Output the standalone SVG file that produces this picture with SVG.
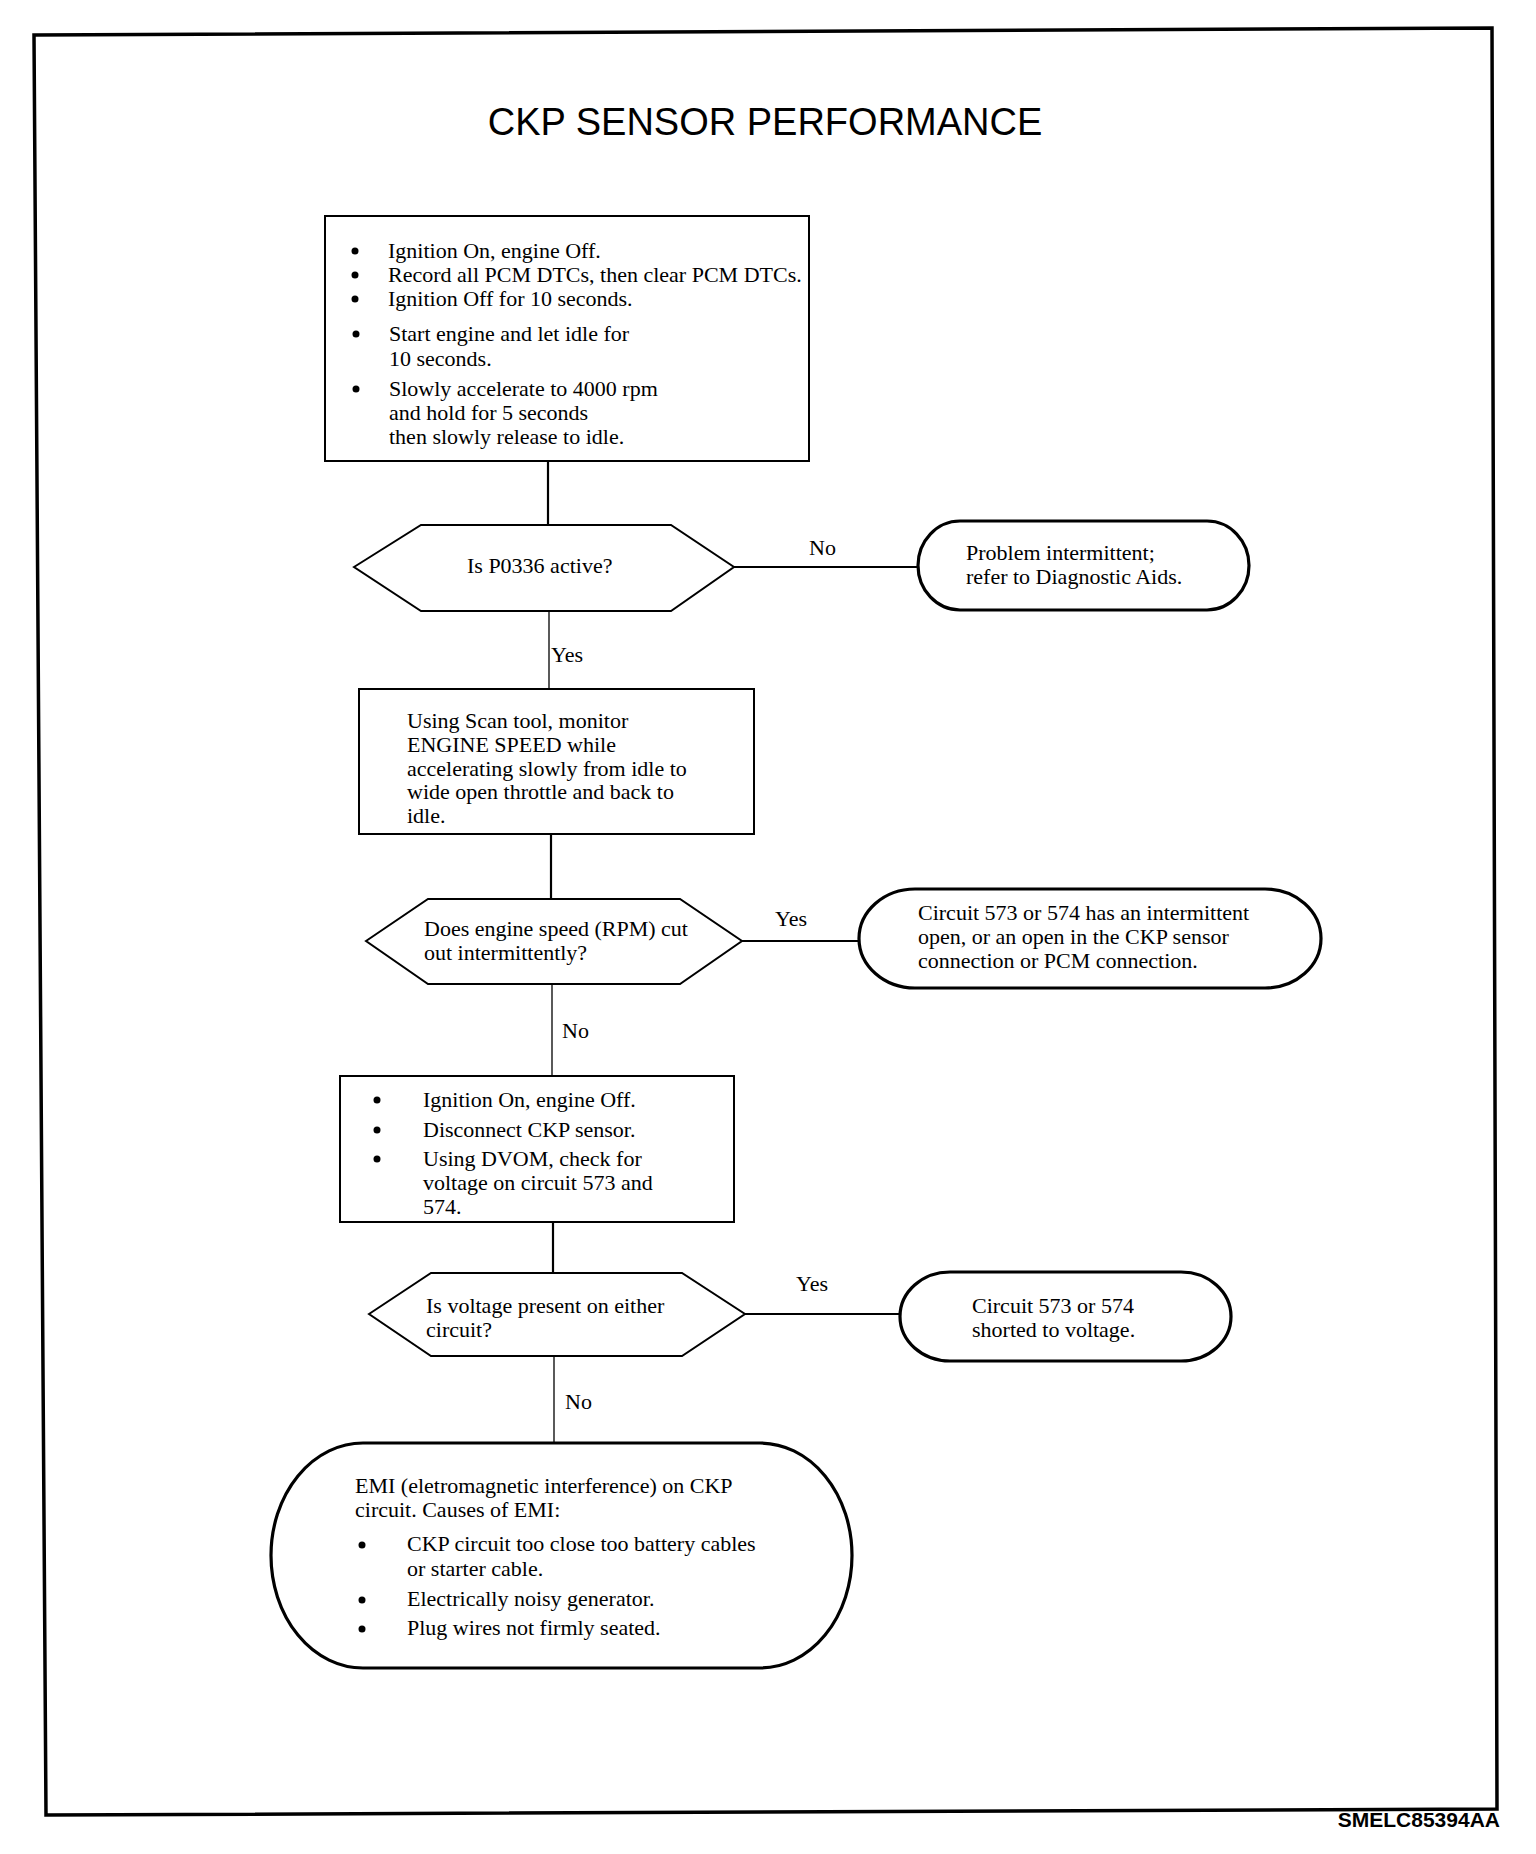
<svg xmlns="http://www.w3.org/2000/svg" width="1536" height="1854" viewBox="0 0 1536 1854">
<style>
.t{font-family:"Liberation Serif","Times New Roman",serif;font-size:22px;fill:#000}
.lbl{font-family:"Liberation Serif","Times New Roman",serif;font-size:22px;fill:#000}
.box{fill:#fff;stroke:#000;stroke-width:2}
.hex{fill:#fff;stroke:#000;stroke-width:2}
.oval{fill:#fff;stroke:#000;stroke-width:3.2}
.c{stroke:#000;stroke-width:2.2;fill:none}
.ct{stroke:#000;stroke-width:1.3;fill:none}
.b{fill:#000}
</style>
<rect x="0" y="0" width="1536" height="1854" fill="#fff"/>
<polygon points="34,35 1492,28 1497,1809 46,1815" fill="none" stroke="#000" stroke-width="3.5"/>
<text x="765" y="135" text-anchor="middle" font-family="'Liberation Sans',Arial,sans-serif" font-size="38" fill="#000">CKP SENSOR PERFORMANCE</text>

<g id="connectors">
<line class="c" x1="548" y1="461" x2="548" y2="525"/>
<line class="c" x1="734" y1="567" x2="918" y2="567"/>
<line class="ct" x1="549" y1="611" x2="549" y2="689"/>
<line class="c" x1="551" y1="834" x2="551" y2="899"/>
<line class="c" x1="742" y1="941" x2="859" y2="941"/>
<line class="ct" x1="552" y1="984" x2="552" y2="1076"/>
<line class="c" x1="553" y1="1222" x2="553" y2="1273"/>
<line class="c" x1="745" y1="1314" x2="900" y2="1314"/>
<line class="ct" x1="554" y1="1356" x2="554" y2="1444"/>
<text class="lbl" x="809" y="555">No</text>
<text class="lbl" x="551" y="662">Yes</text>
<text class="lbl" x="775" y="926">Yes</text>
<text class="lbl" x="562" y="1038">No</text>
<text class="lbl" x="796" y="1291">Yes</text>
<text class="lbl" x="565" y="1409">No</text>
</g>

<g id="box1">
<rect class="box" x="325" y="216" width="484" height="245"/>
<circle class="b" cx="355" cy="251" r="3.5"/>
<text class="t" x="388" y="258">Ignition On, engine Off.</text>
<circle class="b" cx="355" cy="275" r="3.5"/>
<text class="t" x="388" y="282">Record all PCM DTCs, then clear PCM DTCs.</text>
<circle class="b" cx="355" cy="299" r="3.5"/>
<text class="t" x="388" y="306">Ignition Off for 10 seconds.</text>
<circle class="b" cx="356" cy="334" r="3.5"/>
<text class="t" x="389" y="341">Start engine and let idle for</text>
<text class="t" x="389" y="366">10 seconds.</text>
<circle class="b" cx="356" cy="389" r="3.5"/>
<text class="t" x="389" y="396">Slowly accelerate to 4000 rpm</text>
<text class="t" x="389" y="420">and hold for 5 seconds</text>
<text class="t" x="389" y="444">then slowly release to idle.</text>
</g>

<g id="hex1">
<polygon class="hex" points="354,567 421,525 671,525 734,567 671,611 421,611"/>
<text class="t" x="467" y="573">Is P0336 active?</text>
</g>

<g id="oval1">
<rect class="oval" x="918" y="521" width="331" height="89" rx="42" ry="44.5"/>
<text class="t" x="966" y="560">Problem intermittent;</text>
<text class="t" x="966" y="584">refer to Diagnostic Aids.</text>
</g>

<g id="box2">
<rect class="box" x="359" y="689" width="395" height="145"/>
<text class="t" x="407" y="728">Using Scan tool, monitor</text>
<text class="t" x="407" y="752">ENGINE SPEED while</text>
<text class="t" x="407" y="776">accelerating slowly from idle to</text>
<text class="t" x="407" y="799">wide open throttle and back to</text>
<text class="t" x="407" y="823">idle.</text>
</g>

<g id="hex2">
<polygon class="hex" points="366,941 428,899 680,899 742,941 680,984 428,984"/>
<text class="t" x="424" y="936">Does engine speed (RPM) cut</text>
<text class="t" x="424" y="960">out intermittently?</text>
</g>

<g id="oval2">
<rect class="oval" x="859" y="889" width="462" height="99" rx="56" ry="49.5"/>
<text class="t" x="918" y="920">Circuit 573 or 574 has an intermittent</text>
<text class="t" x="918" y="944">open, or an open in the CKP sensor</text>
<text class="t" x="918" y="968">connection or PCM connection.</text>
</g>

<g id="box3">
<rect class="box" x="340" y="1076" width="394" height="146"/>
<circle class="b" cx="377" cy="1100" r="3.5"/>
<text class="t" x="423" y="1107">Ignition On, engine Off.</text>
<circle class="b" cx="377" cy="1130" r="3.5"/>
<text class="t" x="423" y="1137">Disconnect CKP sensor.</text>
<circle class="b" cx="377" cy="1159" r="3.5"/>
<text class="t" x="423" y="1166">Using DVOM, check for</text>
<text class="t" x="423" y="1190">voltage on circuit 573 and</text>
<text class="t" x="423" y="1214">574.</text>
</g>

<g id="hex3">
<polygon class="hex" points="369,1314 431,1273 682,1273 745,1314 682,1356 431,1356"/>
<text class="t" x="426" y="1313">Is voltage present on either</text>
<text class="t" x="426" y="1337">circuit?</text>
</g>

<g id="oval3">
<rect class="oval" x="900" y="1272" width="331" height="89" rx="50" ry="44.5"/>
<text class="t" x="972" y="1313">Circuit 573 or 574</text>
<text class="t" x="972" y="1337">shorted to voltage.</text>
</g>

<g id="oval4">
<rect class="oval" x="271" y="1443" width="581" height="225" rx="92" ry="112.5"/>
<text class="t" x="355" y="1493">EMI (eletromagnetic interference) on CKP</text>
<text class="t" x="355" y="1517">circuit. Causes of EMI:</text>
<circle class="b" cx="362" cy="1545" r="3.5"/>
<text class="t" x="407" y="1551">CKP circuit too close too battery cables</text>
<text class="t" x="407" y="1576">or starter cable.</text>
<circle class="b" cx="362" cy="1600" r="3.5"/>
<text class="t" x="407" y="1606">Electrically noisy generator.</text>
<circle class="b" cx="362" cy="1629" r="3.5"/>
<text class="t" x="407" y="1635">Plug wires not firmly seated.</text>
</g>

<text x="1500" y="1827" text-anchor="end" font-family="'Liberation Sans',Arial,sans-serif" font-size="21" font-weight="bold" fill="#000">SMELC85394AA</text>
</svg>
